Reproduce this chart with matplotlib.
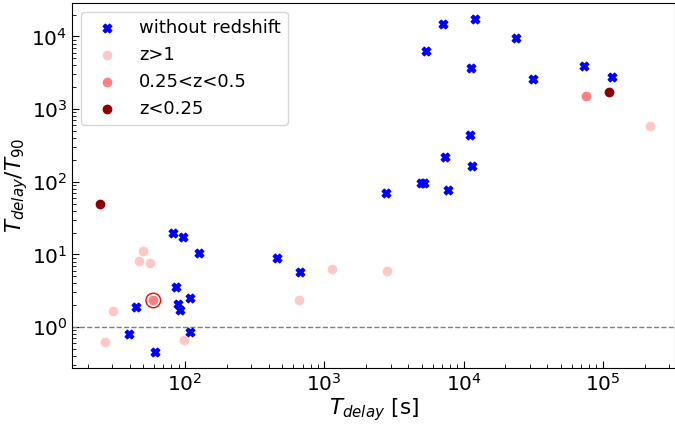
import matplotlib
matplotlib.use('Agg')
import matplotlib.pyplot as plt

# without redshift
nz_delay = [81.6, 96.8, 125.4, 459, 668, 86.6, 109.1, 89.1, 92.5, 44.7, 39.6, 109.1, 61.2,
            7170, 12170, 23940, 5354, 11320, 31540, 72830, 117000, 11070, 7418, 11510,
            4930, 5215, 7797, 2780]
nz_ratio = [19.5, 17.4, 10.4, 9.0, 5.72, 3.52, 2.49, 2.07, 1.71, 1.87, 0.809, 0.853, 0.453,
            14770, 17650, 9660, 6270, 3690, 2606, 3975, 2778, 445, 217, 165,
            95.3, 95.3, 77.8, 69.5]

# z>1
hz_delay = [50.0, 46.8, 55.9, 1128, 30.5, 658, 26.5, 97.9, 217800, 2812]
hz_ratio = [11.0, 8.19, 7.61, 6.35, 1.68, 2.33, 0.627, 0.656, 587, 5.97]

# 0.25<z<0.5
mz_delay = [59.2, 76170]
mz_ratio = [2.33, 1506]

# z<0.25
lz_delay = [24.4, 110100]
lz_ratio = [49.5, 1742]

# circled one
mark_delay = [59.2]
mark_ratio = [2.33]

fig = plt.figure(figsize=(6.75, 4.25), dpi=100)
ax = fig.add_axes([0.107, 0.133, 0.893, 0.861])

ax.scatter(nz_delay, nz_ratio, marker='X', color='blue', s=38, label='without redshift', zorder=3)
ax.scatter(hz_delay, hz_ratio, marker='o', color='#ffc8c8', s=36, label='z>1', zorder=3)
ax.scatter(mz_delay, mz_ratio, marker='o', color='#ff8080', s=36, label='0.25<z<0.5', zorder=3)
ax.scatter(lz_delay, lz_ratio, marker='o', color='#8b0000', s=36, label='z<0.25', zorder=3)
ax.scatter(mark_delay, mark_ratio, marker='o', facecolors='none', edgecolors='red', s=110, linewidths=1, zorder=4)

ax.axhline(1, color='grey', linestyle='--', linewidth=1)

ax.set_xscale('log')
ax.set_yscale('log')
ax.set_xlim(15.5, 3.3e5)
ax.set_ylim(0.27, 2.93e4)

ax.set_xlabel(r'$T_{delay}$ [s]', fontsize=15.5, labelpad=1)
ax.set_ylabel(r'$T_{delay}/T_{90}$', fontsize=15.5, labelpad=1)
ax.tick_params(which='both', direction='in', labelsize=14.5)
ax.tick_params(which='major', length=5)
ax.tick_params(which='minor', length=3)

ax.legend(loc='upper left', fontsize=13)

fig.savefig('out.png', dpi=100)
